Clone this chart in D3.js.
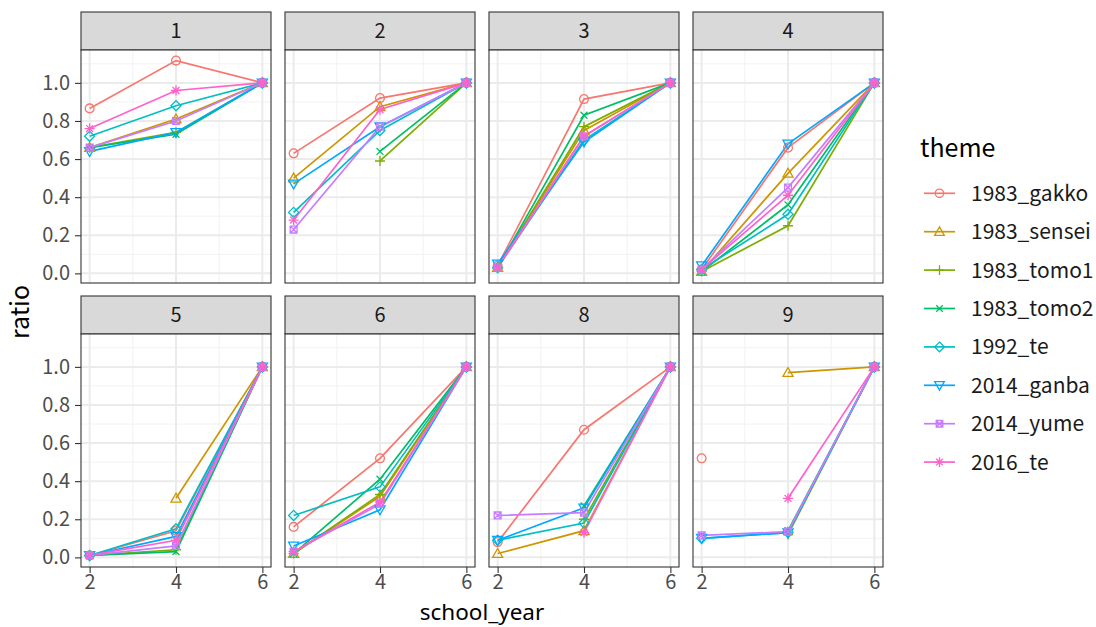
<!DOCTYPE html>
<html><head><meta charset="utf-8">
<script src="https://cdn.jsdelivr.net/npm/d3@7"></script>
<style>
body{margin:0;background:#fff}
text{font-family:"Noto Sans CJK JP","Noto Sans",sans-serif}
</style>
</head><body>
<svg id="c" width="1096" height="627"></svg>
<script>
// ---------- data ----------
const panels = ["1","2","3","4","5","6","8","9"];
const years = [2,4,6];
const themes = ["1983_gakko","1983_sensei","1983_tomo1","1983_tomo2","1992_te","2014_ganba","2014_yume","2016_te"];
const colors = ["#F8766D","#CD9600","#7CAE00","#00BE67","#00BFC4","#00A9FF","#C77CFF","#FF61CC"];
const yTicks = [0,0.2,0.4,0.6,0.8,1.0];
const xTicks = [2,4,6];
// each: one [year2, year4, year6] triple per panel (1,2,3,4,5,6,8,9); null = missing
const gakko  = [[0.866,1.117,1],[0.63,0.92,1],[0.04,0.915,1],[0.02,0.66,1],[0.01,0.14,1],[0.16,0.52,1],[0.08,0.67,1],[0.52,null,1]];
const sensei = [[0.66,0.81,1],[0.50,0.875,1],[0.03,0.75,1],[0.01,0.525,1],[null,0.31,1],[0.02,0.32,1],[0.02,0.14,1],[null,0.97,1]];
const tomo1  = [[0.66,0.74,1],[null,0.59,1],[0.03,0.77,1],[0.01,0.25,1],[0.01,0.04,1],[0.02,0.33,1],[null,0.20,1],[null,0.12,1]];
const tomo2  = [[0.66,0.73,1],[null,0.64,1],[0.03,0.83,1],[0.01,0.36,1],[0.01,0.03,1],[0.02,0.41,1],[null,0.27,1],[null,0.14,1]];
const te1992 = [[0.72,0.88,1],[0.32,0.75,1],[0.03,0.70,1],[0.02,0.31,1],[0.01,0.15,1],[0.22,0.37,1],[0.09,0.18,1],[0.10,0.13,1]];
const ganba  = [[0.64,0.74,1],[0.47,0.77,1],[0.05,0.69,1],[0.04,0.68,1],[0.01,0.11,1],[0.06,0.25,1],[0.09,0.26,1],[0.10,0.13,1]];
const yume   = [[0.66,0.80,1],[0.23,0.77,1],[0.03,0.72,1],[0.02,0.45,1],[0.01,0.06,1],[0.03,0.28,1],[0.22,0.235,1],[0.115,0.135,1]];
const te2016 = [[0.76,0.96,1],[0.28,0.86,1],[0.03,0.72,1],[0.02,0.41,1],[0.01,0.09,1],[0.03,0.29,1],[null,0.13,1],[null,0.31,1]];
const seriesValues = [gakko,sensei,tomo1,tomo2,te1992,ganba,yume,te2016];

// ---------- layout ----------
const svg = d3.select("#c");
const colX = [81,285,489,693], pw = 190;
const rowStripY = [12,296], stripH = 38, ph = 233;
const x = d3.scaleLinear().domain([1.8,6.2]).range([0,pw]);
const y = d3.scaleLinear().domain([0.005-0.0556,1.117+0.0556]).range([ph,0]);

function shapePath(k, r){
  const a=r*0.78, t=r*1.15;
  switch(k){
    case 0: return `M${-r},0a${r},${r} 0 1,0 ${2*r},0a${r},${r} 0 1,0 ${-2*r},0`;
    case 1: return `M0,${-t}L${t},${t*0.75}L${-t},${t*0.75}Z`;
    case 2: return `M${-t},0H${t}M0,${-t}V${t}`;
    case 3: return `M${-a},${-a}L${a},${a}M${-a},${a}L${a},${-a}`;
    case 4: return `M0,${-t}L${t},0L0,${t}L${-t},0Z`;
    case 5: return `M0,${t}L${t},${-t*0.75}L${-t},${-t*0.75}Z`;
    case 6: return `M${-a},${-a}H${a}V${a}H${-a}ZM${-a},${-a}L${a},${a}M${-a},${a}L${a},${-a}`;
    case 7: return `M${-t},0H${t}M0,${-t}V${t}M${-a},${-a}L${a},${a}M${-a},${a}L${a},${-a}`;
  }
}

panels.forEach((p,pi)=>{
  const row = Math.floor(pi/4), col = pi%4;
  const px = colX[col], sy = rowStripY[row], py = sy+stripH;
  // strip
  svg.append("rect").attr("x",px).attr("y",sy).attr("width",pw).attr("height",stripH)
    .attr("fill","#D9D9D9").attr("stroke","#333").attr("stroke-width",1.1);
  svg.append("text").attr("x",px+pw/2).attr("y",sy+stripH/2).attr("dy","0.36em")
    .attr("text-anchor","middle").attr("font-size",20).attr("fill","#1A1A1A").text(p);
  const g = svg.append("g").attr("transform",`translate(${px},${py})`);
  g.append("rect").attr("width",pw).attr("height",ph).attr("fill","#fff");
  // minor grid
  [3,5].forEach(v=>g.append("line").attr("x1",x(v)).attr("x2",x(v)).attr("y1",0).attr("y2",ph).attr("stroke","#F2F2F2").attr("stroke-width",1));
  [0.1,0.3,0.5,0.7,0.9,1.1].forEach(v=>g.append("line").attr("y1",y(v)).attr("y2",y(v)).attr("x1",0).attr("x2",pw).attr("stroke","#F2F2F2").attr("stroke-width",1));
  xTicks.forEach(v=>g.append("line").attr("x1",x(v)).attr("x2",x(v)).attr("y1",0).attr("y2",ph).attr("stroke","#EBEBEB").attr("stroke-width",2));
  yTicks.forEach(v=>g.append("line").attr("y1",y(v)).attr("y2",y(v)).attr("x1",0).attr("x2",pw).attr("stroke","#EBEBEB").attr("stroke-width",2));
  // lines
  const line = d3.line().defined(d=>d[1]!==null).x(d=>x(d[0])).y(d=>y(d[1]));
  seriesValues.forEach((sv,si)=>{
    const pts = years.map((yr,i)=>[yr,sv[pi][i]]);
    g.append("path").attr("d",line(pts)).attr("fill","none").attr("stroke",colors[si]).attr("stroke-width",1.7);
  });
  seriesValues.forEach((sv,si)=>{
    years.forEach((yr,i)=>{
      const v = sv[pi][i];
      if(v===null) return;
      g.append("path").attr("transform",`translate(${x(yr)},${y(v)})`).attr("d",shapePath(si,4.4))
        .attr("fill","none").attr("stroke",colors[si]).attr("stroke-width",1.3);
    });
  });
  // border
  g.append("rect").attr("width",pw).attr("height",ph).attr("fill","none").attr("stroke","#333").attr("stroke-width",1.1);
  // axes
  if(col===0){
    const ax = g.append("g").call(d3.axisLeft(y).tickValues(yTicks).tickFormat(d3.format(".1f")).tickSize(6).tickPadding(5));
    ax.select(".domain").remove();
    ax.selectAll("line").attr("stroke","#333").attr("stroke-width",1.1);
    ax.selectAll("text").attr("font-size",20).attr("fill","#4D4D4D").attr("font-family",null);
  }
  if(row===1){
    const ax = g.append("g").attr("transform",`translate(0,${ph})`).call(d3.axisBottom(x).tickValues(xTicks).tickFormat(d3.format("d")).tickSize(6).tickPadding(2));
    ax.select(".domain").remove();
    ax.selectAll("line").attr("stroke","#333").attr("stroke-width",1.1);
    ax.selectAll("text").attr("font-size",20).attr("fill","#4D4D4D").attr("font-family",null);
  }
});

// axis titles
svg.append("text").attr("x",482).attr("y",620).attr("text-anchor","middle").attr("font-size",22.5)
  .style("font-family","'Noto Sans',sans-serif").attr("fill","#000").text("school_year");
svg.append("text").attr("transform","translate(29,312) rotate(-90)").attr("text-anchor","middle").attr("font-size",25).attr("fill","#000").text("ratio");

// legend
svg.append("text").attr("x",920).attr("y",157).attr("font-size",25).attr("fill","#000").text("theme");
themes.forEach((t,i)=>{
  const cy = 193.3 + i*38.4;
  svg.append("line").attr("x1",924).attr("x2",955).attr("y1",cy).attr("y2",cy).attr("stroke",colors[i]).attr("stroke-width",1.7);
  svg.append("path").attr("transform",`translate(939.5,${cy})`).attr("d",shapePath(i,4.2)).attr("fill","none").attr("stroke",colors[i]).attr("stroke-width",1.3);
  svg.append("text").attr("x",971).attr("y",cy).attr("dy","0.36em").attr("font-size",21).attr("fill","#1A1A1A").text(t);
});
</script>
</body></html>
